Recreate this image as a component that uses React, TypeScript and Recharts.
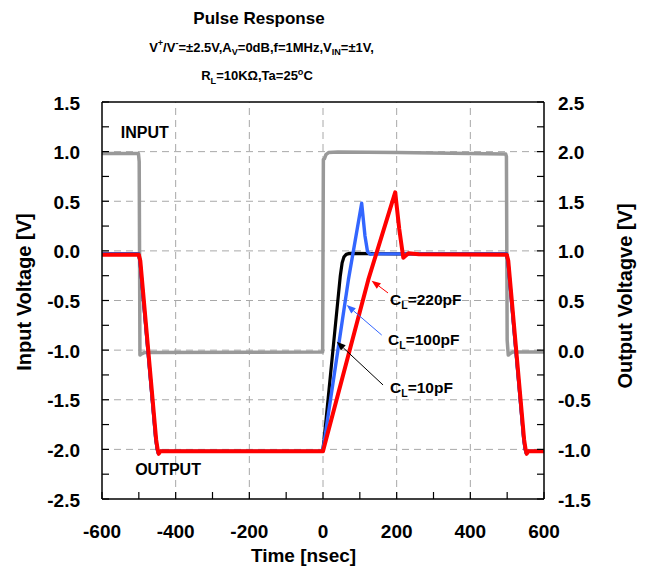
import React from 'react';
import { ComposedChart, Line, XAxis, YAxis, ReferenceLine, ReferenceDot } from 'recharts';

const FONT = '"Liberation Sans", Arial, Helvetica, sans-serif';

// ---- tick values ----
const xTicks = [-600, -500, -400, -300, -200, -100, 0, 100, 200, 300, 400, 500, 600];
const xMajor = [-400, -200, 0, 200, 400];
const leftTicks = [-2.5, -2.25, -2, -1.75, -1.5, -1.25, -1, -0.75, -0.5, -0.25, 0, 0.25, 0.5, 0.75, 1, 1.25, 1.5];
const leftMajor = [-2, -1.5, -1, -0.5, 0, 0.5, 1];
const rightTicks = [-1.5, -1.25, -1, -0.75, -0.5, -0.25, 0, 0.25, 0.5, 0.75, 1, 1.25, 1.5, 1.75, 2, 2.25, 2.5];

// ---- INPUT (left axis) ----
const inputT = [-600, -501, -499, -497, -494, -485, -1, 1, 4, 8, 15, 40, 200, 496, 498, 500, 503, 506, 515, 600];
const inputV = [0.98, 0.98, 0.9, -1.05, -1.04, -1.025, -1.02, 0.92, 0.93, 0.97, 0.99, 0.995, 0.99, 0.975, 0.95, -0.9, -1.05, -1.04, -1.02, -1.02];

// ---- OUTPUT (right axis) ----
const blackT = [-600, -501, -497, -454, -450, -447, -443, -1, 3, 47, 52, 57, 63, 72, 200, 498, 502, 545, 549, 552, 556, 600];
const blackV = [0.97, 0.97, 0.9, -0.9, -1.0, -1.04, -1.02, -1.02, -0.9, 0.75, 0.88, 0.94, 0.965, 0.975, 0.97, 0.97, 0.9, -0.9, -1.0, -1.04, -1.02, -1.02];

const blueT = [-600, -501, -497, -454, -450, -447, -443, -1, 3, 69, 105, 114, 121, 128, 140, 498, 502, 545, 549, 552, 556, 600];
const blueV = [0.97, 0.97, 0.9, -0.9, -1.0, -1.04, -1.02, -1.02, -0.93, 0.71, 1.48, 1.15, 0.99, 0.965, 0.97, 0.97, 0.9, -0.9, -1.0, -1.04, -1.02, -1.02];

const redT = [-600, -500, -496, -453, -449, -446, -442, 0, 4, 123, 196, 207, 218, 224, 232, 260, 499, 503, 546, 550, 553, 557, 600];
const redV = [0.96, 0.96, 0.9, -0.9, -1.0, -1.045, -1.02, -1.02, -0.96, 0.71, 1.59, 1.22, 0.93, 0.95, 0.975, 0.965, 0.96, 0.9, -0.9, -1.0, -1.045, -1.02, -1.02];

const toPts = (ts: number[], vs: number[]) => ts.map((t, i) => ({ t, v: vs[i] }));
const inputData = toPts(inputT, inputV);
const blackData = toPts(blackT, blackV);
const blueData = toPts(blueT, blueV);
const redData = toPts(redT, redV);

// ---- annotations (data coords on left axis) ----
const arrows = [
  { name: '220', color: '#ff0000', from: { x: 176.5, y: -0.424 }, to: { x: 132, y: -0.30 } },
  { name: '100', color: '#3366ff', from: { x: 159.4, y: -0.848 }, to: { x: 64.4, y: -0.545 } },
  { name: '10', color: '#000000', from: { x: 163, y: -1.351 }, to: { x: 37.3, y: -0.915 } },
];
const capLabels = [
  { text: '=220pF', x: 182, y: -0.545 },
  { text: '=100pF', x: 176.5, y: -0.948 },
  { text: '=10pF', x: 182, y: -1.437 },
];

type Seg = { t: string; k?: 'sup' | 'sub' };
const titleLine1: Seg[] = [
  { t: 'V' }, { t: '+', k: 'sup' }, { t: '/V' }, { t: '-', k: 'sup' }, { t: '=±2.5V,A' }, { t: 'V', k: 'sub' },
  { t: '=0dB,f=1MHz,V' }, { t: 'IN', k: 'sub' }, { t: '=±1V,' },
];
const titleLine2: Seg[] = [
  { t: 'R' }, { t: 'L', k: 'sub' }, { t: '=10KΩ,Ta=25' }, { t: 'o', k: 'sup' }, { t: 'C' },
];

function rich(segs: Seg[], fs: number) {
  let cur = 0;
  return segs.map((s, i) => {
    const target = s.k === 'sup' ? -0.42 * fs : s.k === 'sub' ? 0.3 * fs : 0;
    const dy = target - cur;
    cur = target;
    return (
      <tspan key={i} dy={dy} fontSize={s.k ? fs * 0.7 : fs}>
        {s.t}
      </tspan>
    );
  });
}

const isMajorY = (v: number) => Math.abs(v * 2 - Math.round(v * 2)) < 1e-9;
const fmtY = (v: number) => (Math.abs(v) < 1e-9 ? '0.0' : v.toFixed(1));

const XTick = (props: any) => {
  const { x, y, payload } = props;
  const v = payload.value;
  const major = Math.abs(v % 200) < 1e-9;
  return (
    <g>
      <line x1={x} x2={x} y1={y} y2={y - 7} stroke="#000" strokeWidth={1.2} />
      {major && (
        <text x={x} y={y + 38.5} textAnchor="middle" fontSize={19} fontWeight="bold" fontFamily={FONT} fill="#000">
          {v}
        </text>
      )}
    </g>
  );
};

const LeftTick = (props: any) => {
  const { x, y, payload } = props;
  const v = payload.value;
  return (
    <g>
      <line x1={x} x2={x + 7} y1={y} y2={y} stroke="#000" strokeWidth={1.2} />
      {isMajorY(v) && (
        <text x={x - 22} y={y + 7.5} textAnchor="end" fontSize={19} fontWeight="bold" fontFamily={FONT} fill="#000">
          {fmtY(v)}
        </text>
      )}
    </g>
  );
};

const RightTick = (props: any) => {
  const { x, y, payload } = props;
  const v = payload.value;
  return (
    <g>
      <line x1={x} x2={x - 7} y1={y} y2={y} stroke="#000" strokeWidth={1.2} />
      {isMajorY(v) && (
        <text x={x + 14} y={y + 7.5} textAnchor="start" fontSize={19} fontWeight="bold" fontFamily={FONT} fill="#000">
          {fmtY(v)}
        </text>
      )}
    </g>
  );
};

const makeArrow = (color: string) => (p: any) => {
  const { x1, y1, x2, y2 } = p;
  const dx = x2 - x1;
  const dy = y2 - y1;
  const len = Math.sqrt(dx * dx + dy * dy) || 1;
  const ux = dx / len;
  const uy = dy / len;
  const L = 9;
  const W = 3.5;
  const bx = x2 - ux * L;
  const by = y2 - uy * L;
  const pts = `${x2},${y2} ${bx - uy * W},${by + ux * W} ${bx + uy * W},${by - ux * W}`;
  return (
    <g>
      <line x1={x1} y1={y1} x2={bx} y2={by} stroke={color} strokeWidth={1} />
      <polygon points={pts} fill={color} />
    </g>
  );
};

const makeText = (content: React.ReactNode, fs: number) => (p: any) => (
  <text x={p.cx} y={p.cy} fontSize={fs} fontWeight="bold" fontFamily={FONT} fill="#000">
    {content}
  </text>
);

const gridStyle = { stroke: '#a8a8a8', strokeWidth: 1, strokeDasharray: '7 5' };

export default function App() {
  return (
    <div style={{ position: 'relative', width: 649, height: 575, margin: -8, background: '#fff' }}>
      <ComposedChart width={649} height={575} margin={{ top: 102, right: 45, bottom: 36, left: 42 }}>
        <XAxis
          dataKey="t"
          type="number"
          domain={[-600, 600]}
          ticks={xTicks}
          interval={0}
          allowDataOverflow
          height={40}
          tickSize={0}
          tickMargin={0}
          tick={<XTick />}
          axisLine={{ stroke: '#000', strokeWidth: 1.5 }}
        />
        <YAxis
          yAxisId="left"
          type="number"
          domain={[-2.5, 1.5]}
          ticks={leftTicks}
          interval={0}
          allowDataOverflow
          width={60}
          tickSize={0}
          tickMargin={0}
          tick={<LeftTick />}
          axisLine={{ stroke: '#000', strokeWidth: 1.5 }}
        />
        <YAxis
          yAxisId="right"
          orientation="right"
          type="number"
          domain={[-1.5, 2.5]}
          ticks={rightTicks}
          interval={0}
          allowDataOverflow
          width={60}
          tickSize={0}
          tickMargin={0}
          tick={<RightTick />}
          axisLine={{ stroke: '#000', strokeWidth: 1.5 }}
        />
        {xMajor.map((v) => (
          <ReferenceLine key={'gx' + v} x={v} yAxisId="left" {...gridStyle} />
        ))}
        {leftMajor.map((v) => (
          <ReferenceLine key={'gy' + v} y={v} yAxisId="left" {...gridStyle} />
        ))}
        <ReferenceLine y={1.5} yAxisId="left" stroke="#000" strokeWidth={1.5} />

        <Line yAxisId="left" data={inputData} dataKey="v" type="linear" stroke="#999999" strokeWidth={3.5} dot={false} isAnimationActive={false} strokeLinejoin="round" />
        <Line yAxisId="right" data={blackData} dataKey="v" type="linear" stroke="#000000" strokeWidth={3.2} dot={false} isAnimationActive={false} strokeLinejoin="round" />
        <Line yAxisId="right" data={blueData} dataKey="v" type="linear" stroke="#3366ff" strokeWidth={3.4} dot={false} isAnimationActive={false} strokeLinejoin="round" />
        <Line yAxisId="right" data={redData} dataKey="v" type="linear" stroke="#ff0000" strokeWidth={4} dot={false} isAnimationActive={false} strokeLinejoin="round" />

        {arrows.map((a) => (
          <ReferenceLine key={'ar' + a.name} yAxisId="left" segment={[a.from, a.to]} shape={makeArrow(a.color)} />
        ))}
        {capLabels.map((c) => (
          <ReferenceDot
            key={'cl' + c.text}
            yAxisId="left"
            x={c.x}
            y={c.y}
            r={0}
            shape={makeText(
              <>
                <tspan>C</tspan>
                <tspan dy={4} fontSize={10.5}>L</tspan>
                <tspan dy={-4} fontSize={15.5}>{c.text}</tspan>
              </>,
              15.5
            )}
          />
        ))}
        <ReferenceDot yAxisId="left" x={-549} y={1.134} r={0} shape={makeText('INPUT', 16)} />
        <ReferenceDot yAxisId="left" x={-510} y={-2.258} r={0} shape={makeText('OUTPUT', 16)} />
      </ComposedChart>

      <svg
        width={649}
        height={575}
        style={{ position: 'absolute', left: 0, top: 0, pointerEvents: 'none' }}
        fontFamily={FONT}
        fontWeight="bold"
        fill="#000"
      >
        <text x={259} y={24} textAnchor="middle" fontSize={17}>Pulse Response</text>
        <text x={261.5} y={51.5} textAnchor="middle" fontSize={13}>{rich(titleLine1, 13)}</text>
        <text x={257} y={80} textAnchor="middle" fontSize={13}>{rich(titleLine2, 13)}</text>
        <text transform="translate(31,292) rotate(-90)" textAnchor="middle" fontSize={20}>Input Voltage [V]</text>
        <text transform="translate(632,296) rotate(-90)" textAnchor="middle" fontSize={20}>Output Voltagve [V]</text>
        <text x={303.5} y={562} textAnchor="middle" fontSize={19}>Time [nsec]</text>
      </svg>
    </div>
  );
}
